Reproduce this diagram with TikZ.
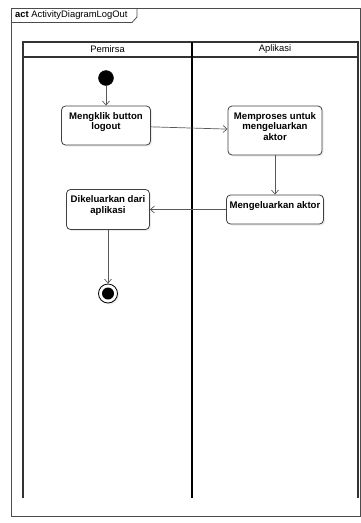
\documentclass[tikz,border=0pt]{standalone}
\usepackage{fontspec}
\setmainfont{Liberation Sans}
\usetikzlibrary{positioning, arrows.meta, shadows}

\tikzset{
    activity/.style={draw=black!75, line width=0.8pt, rounded corners=4pt, fill=white,
        drop shadow={opacity=0.15, shadow xshift=1.5pt, shadow yshift=-1.5pt}},
    inlabel/.style={anchor=north, align=center, yshift=-3pt,
        font=\bfseries\fontsize{9.6}{10.5}\selectfont},
    flow/.style={draw=black!65, line width=0.7pt, -{Straight Barb[length=4pt, width=7pt]}}
}

\begin{document}
\begin{tikzpicture}[x=1pt, y=-1pt, node distance=2cm]
    \useasboundingbox (0,0) rectangle (361,523);

    % Frame and lanes
    \draw[black!70, line width=0.8pt] (11,8) rectangle (360,516);
    \draw[black!70, line width=0.8pt] (11,22.5) -- (132,22.5) -- (137,17) -- (137,8);
    \node[anchor=west, font=\fontsize{9.4}{11}\selectfont, inner sep=0pt] (title) at (15,15.5)
        {\textbf{act} ActivityDiagramLogOut};
    \draw[black!80, line width=1.3pt] (23,42) rectangle (358,57);
    \draw[black!80, line width=1.3pt] (23,57) -- (23,498);
    \draw[black!80, line width=1.3pt] (358,57) -- (358,498);
    \draw[black, line width=1.8pt] (192,42) -- (192,498);
    \node[font=\fontsize{9.4}{11}\selectfont] (lane1) at (107.5,49.5) {Pemirsa};
    \node[font=\fontsize{9.4}{11}\selectfont] (lane2) at (275,49.5) {Aplikasi};

    % Nodes
    \node [draw, circle, fill=black, minimum size=15pt, inner sep=0pt] (start) at (106,78) {};
    \node [activity, below of=start, node distance=47.5pt, minimum width=89pt, minimum height=39pt,
        label={[inlabel]north:Mengklik button\\logout}] (click) {};
    \node [activity, minimum width=94pt, minimum height=49pt,
        label={[inlabel]north:Memproses untuk\\mengeluarkan\\aktor}] (process) at (275,130.5) {};
    \node [activity, below of=process, node distance=79pt, minimum width=97pt, minimum height=29pt,
        label={[inlabel]north:Mengeluarkan aktor}] (remove) {};
    \node [activity, left of=remove, node distance=167pt, minimum width=83pt, minimum height=40pt,
        label={[inlabel]north:Dikeluarkan dari\\aplikasi}] (exit) {};
    \node [draw, circle, fill=white, line width=0.8pt, minimum size=19pt, inner sep=0pt,
        below of=exit, node distance=84pt,
        drop shadow={opacity=0.15, shadow xshift=1.5pt, shadow yshift=-1.5pt}] (end) {};
    \fill[black] (end.center) circle (6pt);

    % Arrows
    \draw[flow] (start) -- (click);
    \draw[flow] (click) -- (process);
    \draw[flow] (process) -- (remove);
    \draw[flow] (remove) -- (exit);
    \draw[flow] (exit) -- (end);

\end{tikzpicture}
\end{document}
